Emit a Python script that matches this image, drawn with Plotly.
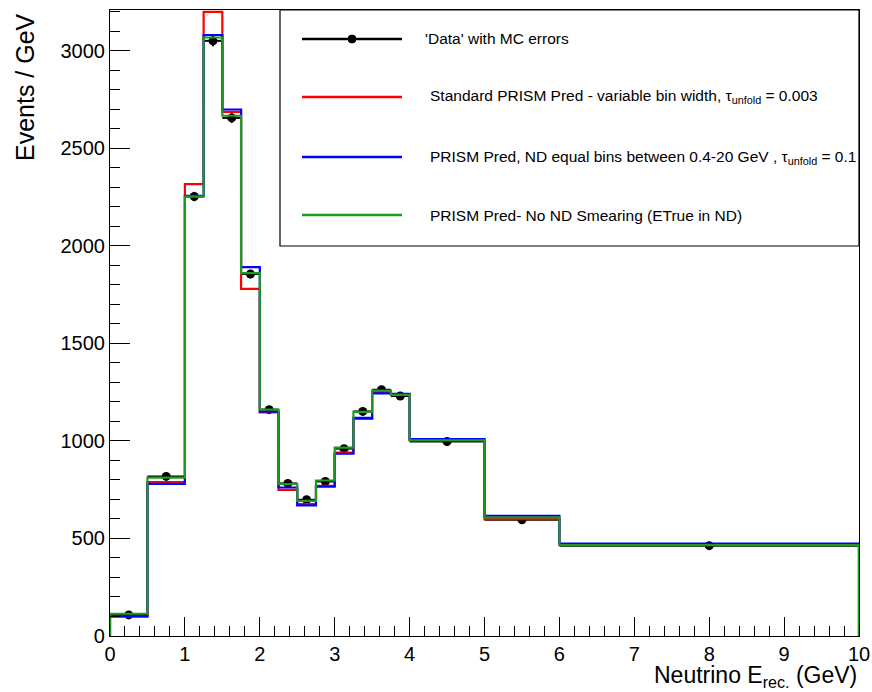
import numpy as np
import plotly.graph_objects as go

# Bin edges (GeV) and per-bin contents (events / GeV)
bin_edges = [0, 0.5, 1, 1.25, 1.5, 1.75, 2, 2.25, 2.5, 2.75, 3, 3.25, 3.5, 3.75, 4, 5, 6, 10]
data_vals = [108, 818, 2252, 3050, 2655, 1855, 1160, 782, 698, 792, 960, 1151, 1262, 1230, 997, 596, 463]
data_errs = [10, 16, 24, 28, 26, 22, 18, 15, 15, 15, 16, 18, 20, 18, 10, 6, 3]
std_prism = [100, 789, 2316, 3198, 2686, 1779, 1146, 749, 676, 770, 940, 1112, 1250, 1238, 1005, 599, 470]
equal_bins = [100, 780, 2255, 3080, 2698, 1890, 1150, 761, 669, 765, 934, 1118, 1243, 1241, 1009, 616, 474]
no_smear = [114, 812, 2252, 3067, 2666, 1860, 1160, 779, 692, 797, 965, 1149, 1257, 1236, 1002, 608, 466]

legend_labels = [
    "'Data' with MC errors",
    "Standard PRISM Pred - variable bin width, τ<sub>unfold</sub> = 0.003",
    "PRISM Pred, ND equal bins between 0.4-20 GeV , τ<sub>unfold</sub> = 0.1",
    "PRISM Pred- No ND Smearing (ETrue in ND)",
]

RED = "#ff0000"
BLUE = "#0000ff"
GREEN = "#1f9a1f"

edges = np.array(bin_edges, dtype=float)
centers = 0.5 * (edges[:-1] + edges[1:])
half_w = 0.5 * (edges[1:] - edges[:-1])


def step_xy(values):
    """Outline of a histogram: closed down to zero at both ends."""
    v = np.asarray(values, dtype=float)
    xs = np.repeat(edges, 2)
    ys = np.concatenate([[0.0], np.repeat(v, 2), [0.0]])
    return xs, ys


fig = go.Figure()

# 'Data' points with horizontal bin-width bars and MC errors
fig.add_trace(go.Scatter(
    x=centers, y=data_vals, mode="markers",
    marker=dict(color="black", size=9),
    error_x=dict(type="data", array=half_w, color="black", thickness=2, width=0),
    error_y=dict(type="data", array=data_errs, color="black", thickness=2, width=0),
    showlegend=False, cliponaxis=True,
))

for vals, col in [(std_prism, RED), (equal_bins, BLUE), (no_smear, GREEN)]:
    xs, ys = step_xy(vals)
    fig.add_trace(go.Scatter(
        x=xs, y=ys, mode="lines",
        line=dict(color=col, width=2.2),
        showlegend=False,
    ))

# Pixel geometry of the plotting frame
W, H = 872, 692
L, R, T, B = 110, 859, 10, 636
PW, PH = R - L, B - T


def px(xp):
    return (xp - L) / PW


def py(yp):
    return (B - yp) / PH


shapes = []
annotations = []

# Legend box
shapes.append(dict(type="rect", xref="paper", yref="paper",
                   x0=px(280), x1=px(859), y0=py(246), y1=py(10),
                   line=dict(color="black", width=1.2), fillcolor="white", layer="above"))

leg_rows = [39, 97, 157, 215]
leg_cols = ["black", RED, BLUE, GREEN]
leg_text_x = [423, 428, 428, 428]
for yrow, col, lab, tx in zip(leg_rows, leg_cols, legend_labels, leg_text_x):
    shapes.append(dict(type="line", xref="paper", yref="paper",
                       x0=px(302), x1=px(402), y0=py(yrow), y1=py(yrow),
                       line=dict(color=col, width=2.5), layer="above"))
    annotations.append(dict(xref="paper", yref="paper", x=px(tx), y=py(yrow),
                            xanchor="left", yanchor="middle", showarrow=False,
                            text=lab, font=dict(size=15.5, color="black")))

# Marker on the data legend entry
r = 4
shapes.append(dict(type="circle", xref="paper", yref="paper",
                   x0=px(352 - r), x1=px(352 + r), y0=py(39 + r), y1=py(39 - r),
                   line=dict(color="black", width=1), fillcolor="black", layer="above"))

# Axis titles (right-aligned, ROOT style)
annotations.append(dict(xref="paper", yref="paper", x=1.0, y=py(676),
                        xanchor="right", yanchor="middle", showarrow=False,
                        text="Neutrino E<sub>rec.</sub> (GeV)",
                        font=dict(size=23, color="black")))
annotations.append(dict(xref="paper", yref="paper", x=px(25), y=py(11),
                        xanchor="center", yanchor="top", showarrow=False,
                        textangle=-90, text="Events / GeV",
                        font=dict(size=25, color="black")))

fig.update_layout(
    width=W, height=H,
    margin=dict(l=L, r=W - R, t=T, b=H - B, autoexpand=False),
    paper_bgcolor="white", plot_bgcolor="white",
    font=dict(family="Liberation Sans, Arial, sans-serif", color="black"),
    shapes=shapes, annotations=annotations,
    showlegend=False,
)

fig.update_xaxes(
    range=[0, 10], dtick=1, tick0=0, automargin=False,
    ticks="inside", ticklen=19, tickwidth=1, tickcolor="black",
    minor=dict(dtick=0.2, ticks="inside", ticklen=10, tickcolor="black", tickwidth=1),
    showline=True, linecolor="black", linewidth=1.2, mirror=True,
    showgrid=False, zeroline=False,
    tickfont=dict(size=20, color="black"),
)
fig.update_yaxes(
    range=[0, 3208], dtick=500, tick0=0, automargin=False,
    ticks="inside", ticklen=20, tickwidth=1, tickcolor="black",
    minor=dict(dtick=100, ticks="inside", ticklen=10, tickcolor="black", tickwidth=1),
    showline=True, linecolor="black", linewidth=1.2, mirror=True,
    showgrid=False, zeroline=False,
    tickfont=dict(size=20, color="black"),
)

fig.write_html("out.html")
